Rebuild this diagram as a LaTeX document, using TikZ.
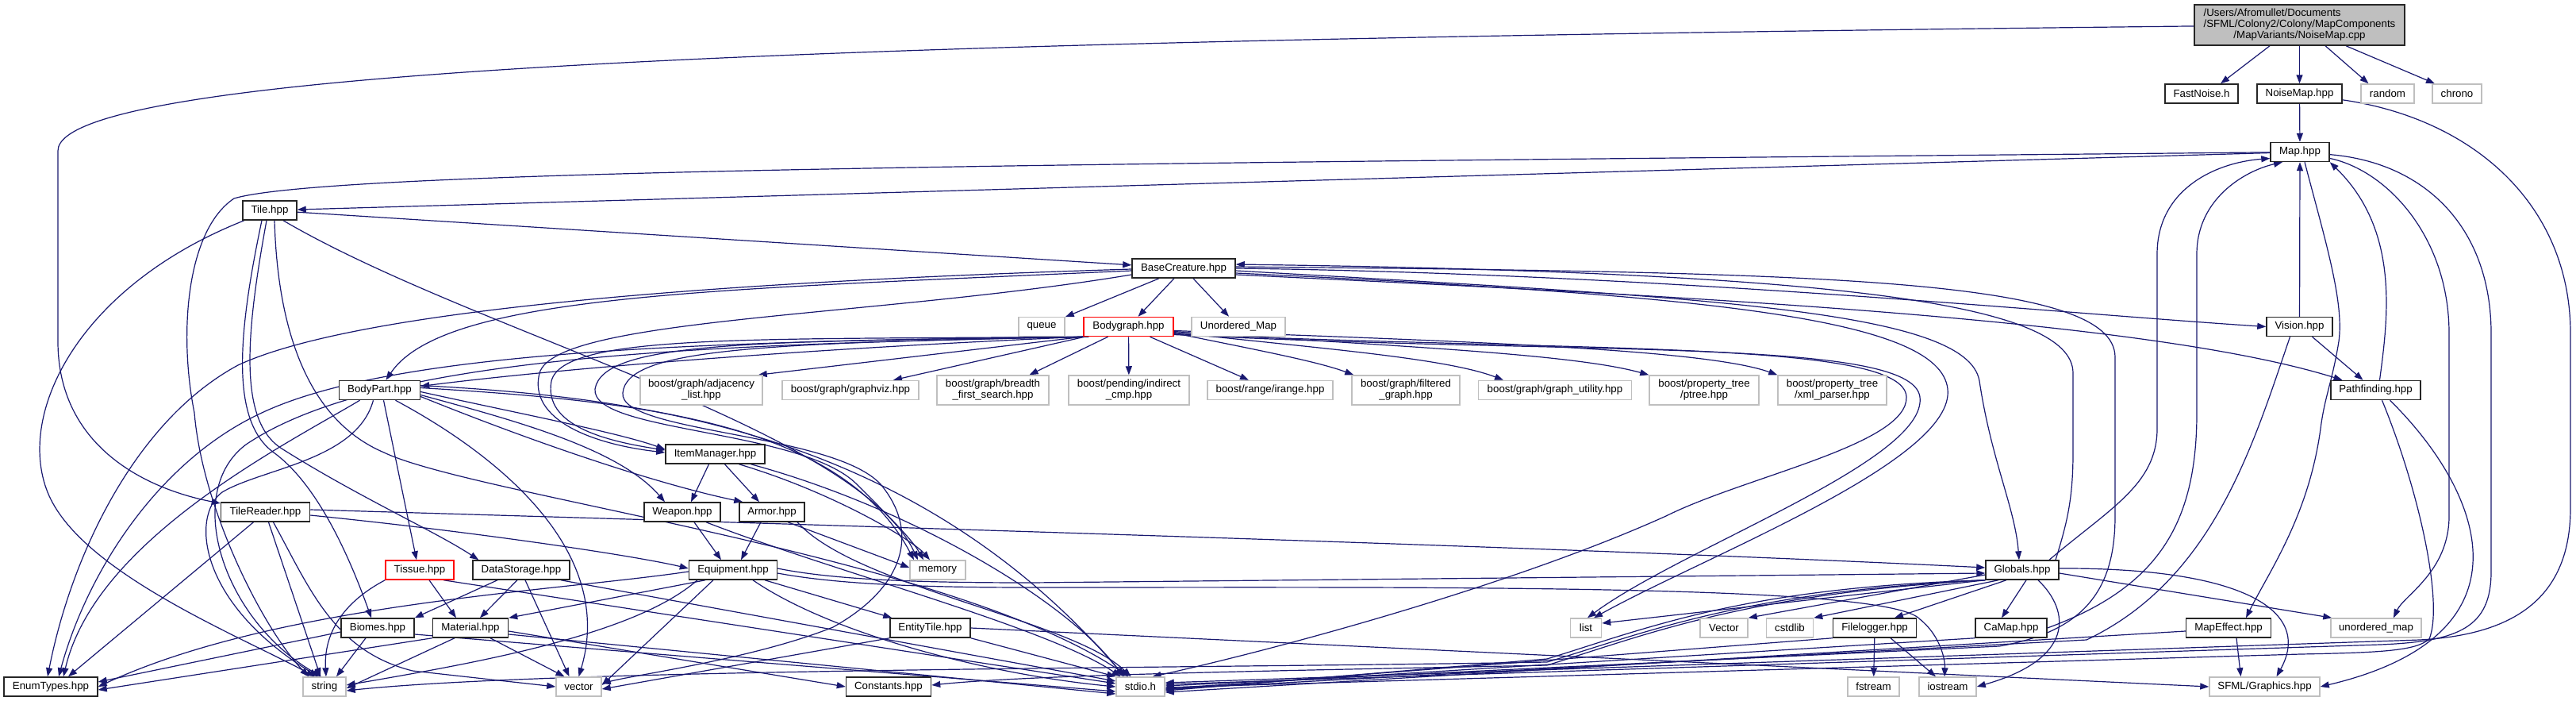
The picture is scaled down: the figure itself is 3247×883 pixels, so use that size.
\documentclass[tikz,border=0pt]{standalone}
\usepackage{fontspec}
\setmainfont{Liberation Sans}
\usetikzlibrary{arrows.meta,backgrounds}
\definecolor{edgec}{RGB}{25,25,112}
\newcommand{\dxf}{\fontsize{13.3pt}{14pt}\selectfont}
\tikzset{
 nd/.style={rectangle, line width=1.5pt, minimum height=24pt, inner sep=1pt, font=\dxf, align=center, fill=white, text=black},
 blk/.style={nd, draw=black!85},
 gry/.style={nd, draw=black!25},
 rdn/.style={nd, draw=red},
 rootn/.style={nd, draw=black!85, fill=black!25, minimum width=265pt, minimum height=51pt},
 edg/.style={draw=edgec, line width=1.2pt, -{Triangle[length=11pt,width=8pt]}},
}
\begin{document}
\begin{tikzpicture}[x=1pt,y=-1pt]
\path[use as bounding box] (0,0) rectangle (3247,883);
% ---------------- nodes ----------------
\node[rootn] (root) at (2898.5,31.5) {\begin{tabular}{@{}l@{}}/Users/Afromullet/Documents\\/SFML/Colony2/Colony/MapComponents\\\multicolumn{1}{@{}c@{}}{/MapVariants/NoiseMap.cpp}\end{tabular}};
\node[blk, minimum width=92pt] (fastnoise) at (2775,118) {FastNoise.h};
\node[blk, minimum width=107pt] (noisemaphpp) at (2898.5,118) {NoiseMap.hpp};
\node[gry, minimum width=67pt] (random) at (3009.5,118) {random};
\node[gry, minimum width=62pt] (chrono) at (3097,118) {chrono};
\node[blk, minimum width=74pt] (map) at (2899,191.5) {Map.hpp};
\node[blk, minimum width=68pt] (tile) at (340,265) {Tile.hpp};
\node[blk, minimum width=130pt] (basecreature) at (1492,338) {BaseCreature.hpp};
\node[gry, minimum width=58pt] (queue) at (1313,411.5) {queue};
\node[rdn, minimum width=113pt] (bodygraph) at (1422.5,411.5) {Bodygraph.hpp};
\node[gry, minimum width=118pt] (unorderedMapU) at (1561,411.5) {Unordered\_Map};
\node[blk, minimum width=83pt] (vision) at (2898.5,411.5) {Vision.hpp};
\node[blk, minimum width=102pt] (bodypart) at (478.5,491.5) {BodyPart.hpp};
\node[gry, minimum width=154pt, minimum height=37pt] (adjlist) at (884,491.5) {boost/graph/adjacency\\\_list.hpp};
\node[gry, minimum width=172pt] (graphviz) at (1072,491.5) {boost/graph/graphviz.hpp};
\node[gry, minimum width=141pt, minimum height=37pt] (bfs) at (1251.5,491.5) {boost/graph/breadth\\\_first\_search.hpp};
\node[gry, minimum width=152pt, minimum height=37pt] (indirect) at (1423,491.5) {boost/pending/indirect\\\_cmp.hpp};
\node[gry, minimum width=158pt] (irange) at (1601,491.5) {boost/range/irange.hpp};
\node[gry, minimum width=136pt, minimum height=37pt] (filtered) at (1772,491.5) {boost/graph/filtered\\\_graph.hpp};
\node[gry, minimum width=193pt] (graphutil) at (1960,491.5) {boost/graph/graph\_utility.hpp};
\node[gry, minimum width=138pt, minimum height=37pt] (ptree) at (2148,491.5) {boost/property\_tree\\/ptree.hpp};
\node[gry, minimum width=137pt, minimum height=37pt] (xmlparser) at (2309.5,491.5) {boost/property\_tree\\/xml\_parser.hpp};
\node[blk, minimum width=113pt] (pathfinding) at (2994.5,491.5) {Pathfinding.hpp};
\node[blk, minimum width=125pt] (itemmanager) at (901.5,572) {ItemManager.hpp};
\node[blk, minimum width=112pt] (tilereader) at (334.5,645) {TileReader.hpp};
\node[blk, minimum width=96pt] (weapon) at (860,645) {Weapon.hpp};
\node[blk, minimum width=82pt] (armor) at (973,645) {Armor.hpp};
\node[rdn, minimum width=86pt] (tissue) at (529,718) {Tissue.hpp};
\node[blk, minimum width=122pt] (datastorage) at (657,718) {DataStorage.hpp};
\node[gry, minimum width=70pt] (memory) at (1182,718) {memory};
\node[blk, minimum width=111pt] (equipment) at (924,718) {Equipment.hpp};
\node[blk, minimum width=92pt] (globals) at (2549,718) {Globals.hpp};
\node[blk, minimum width=92pt] (biomes) at (476,791) {Biomes.hpp};
\node[blk, minimum width=95pt] (material) at (593,791) {Material.hpp};
\node[blk, minimum width=101pt] (entitytile) at (1172.5,791) {EntityTile.hpp};
\node[gry, minimum width=39pt] (list) at (1999,791) {list};
\node[gry, minimum width=60pt] (vectorU) at (2173,791) {Vector};
\node[gry, minimum width=59pt] (cstdlib) at (2256,791) {cstdlib};
\node[blk, minimum width=105pt] (filelogger) at (2363,791) {Filelogger.hpp};
\node[blk, minimum width=90pt] (camap) at (2535,791) {CaMap.hpp};
\node[blk, minimum width=107pt] (mapeffect) at (2809,791) {MapEffect.hpp};
\node[gry, minimum width=114pt] (unorderedmap) at (2995,791) {unordered\_map};
\node[blk, minimum width=118pt] (enumtypes) at (64,865) {EnumTypes.hpp};
\node[gry, minimum width=54pt] (string) at (409,865) {string};
\node[gry, minimum width=57pt] (vector) at (729.5,865) {vector};
\node[blk, minimum width=107pt] (constants) at (1120,865) {Constants.hpp};
\node[gry, minimum width=61pt] (stdio) at (1437.5,865) {stdio.h};
\node[gry, minimum width=65pt] (fstream) at (2361.5,865) {fstream};
\node[gry, minimum width=72pt] (iostream) at (2455,865) {iostream};
\node[gry, minimum width=139pt] (sfml) at (2854.5,865) {SFML/Graphics.hpp};
% ---------------- edges ----------------
\begin{scope}[on background layer]
\fill[white] (0,0) rectangle (3247,883);
% root
\draw[edg] (root) .. controls (1200,50) and (73,80) .. (73,190) -- (73,430) .. controls (73,560) and (180,615) .. (tilereader);
\draw[edg] ([xshift=-37.5pt]root.south) -- ([xshift=24pt]fastnoise.north);
\draw[edg] (root) -- (noisemaphpp);
\draw[edg] ([xshift=32.5pt]root.south) -- ([xshift=-24pt]random.north);
\draw[edg] ([xshift=58.5pt]root.south) -- ([xshift=-28pt]chrono.north);
% NoiseMap.hpp
\draw[edg] (noisemaphpp) -- (map);
\draw[edg] (noisemaphpp) .. controls (3120,150) and (3240,260) .. (3240,420) -- (3240,640) .. controls (3240,760) and (3160,800) .. (3050,806) -- ([yshift=5pt]stdio.east);
% Map.hpp
\draw[edg] (map) -- (tile);
\draw[edg] (map) .. controls (1500,205) and (420,212) .. (295,250) .. controls (235,290) and (225,420) .. (245,520) .. controls (255,640) and (330,790) .. ([xshift=-20pt]string.north);
\draw[edg] (map) .. controls (3010,215) and (3087,300) .. (3087,420) -- (3087,650) .. controls (3087,720) and (3030,750) .. ([xshift=22pt]unorderedmap.north);
\draw[edg] (map) .. controls (3060,205) and (3140,290) .. (3140,420) -- (3140,720) .. controls (3140,790) and (3100,808) .. (3000,812) -- ([yshift=3pt]stdio.east);
\draw[edg] ([xshift=6pt]map.south) .. controls (2930,300) and (2955,380) .. (2948,430) .. controls (2940,480) and (2930,500) .. (2925,540) .. controls (2910,650) and (2860,720) .. ([xshift=22pt]mapeffect.north);
% Vision, Pathfinding
\draw[edg] (vision) -- (map);
\draw[edg] ([xshift=16pt]vision.south) -- ([xshift=-16pt]pathfinding.north);
\draw[edg] ([xshift=-12pt]vision.south) .. controls (2840,560) and (2790,730) .. (2630,806) -- ([yshift=-3pt]stdio.east);
\draw[edg] ([xshift=5pt]pathfinding.north) .. controls (3010,400) and (3025,290) .. (map.south east);
\draw[edg] ([xshift=18pt]pathfinding.south) .. controls (3130,620) and (3200,800) .. (sfml.east);
\draw[edg] ([xshift=8pt]pathfinding.south) .. controls (3050,620) and (3080,760) .. (3062,805) .. controls (3045,820) and (3000,822) .. (2900,824) -- ([yshift=-1pt]stdio.east);
% Globals / CaMap up to Map, Globals <-> BaseCreature
\draw[edg] ([xshift=34pt]globals.north) .. controls (2660,640) and (2719,610) .. (2719,540) -- (2719,320) .. controls (2719,240) and (2790,205) .. ([yshift=-8pt]map.west);
\draw[edg] (camap.east) .. controls (2720,740) and (2769,660) .. (2769,520) -- (2769,320) .. controls (2769,250) and (2830,215) .. ([xshift=-22pt]map.south);
\draw[edg] ([xshift=42pt]globals.north) .. controls (2605,660) and (2613,630) .. (2613,570) -- (2613,470) .. controls (2613,380) and (2300,343) .. ([yshift=5pt]basecreature.east);
\draw[edg] ([yshift=-3pt]basecreature.east) .. controls (2150,375) and (2480,390) .. (2495,480) .. controls (2510,580) and (2540,640) .. ([xshift=-4pt]globals.north);
\draw[edg] ([yshift=2pt]basecreature.east) .. controls (2300,343) and (2666,350) .. (2666,450) -- (2666,650) .. controls (2666,740) and (2630,795) .. (2520,814) -- ([yshift=1pt]stdio.east);
\draw[edg] (basecreature.east) .. controls (2100,345) and (2600,395) .. (vision.west);
\draw[edg] ([yshift=-8pt]basecreature.east) .. controls (2100,372) and (2700,400) .. ([xshift=-42pt]pathfinding.north);
\draw[edg] ([yshift=-6pt]basecreature.east) .. controls (2150,372) and (2445,400) .. (2455,490) .. controls (2465,580) and (2150,700) .. ([xshift=10pt]list.north);
% BaseCreature others
\draw[edg] (basecreature) -- (queue);
\draw[edg] (basecreature) -- (bodygraph);
\draw[edg] (basecreature) -- (unorderedMapU);
\draw[edg] ([yshift=-3pt]basecreature.west) .. controls (900,365) and (560,370) .. ([xshift=8pt]bodypart.north);
\draw[edg] ([yshift=-1pt]basecreature.west) .. controls (900,355) and (450,390) .. (300,460) .. controls (170,530) and (90,700) .. ([xshift=-4pt]enumtypes.north);
\draw[edg] ([yshift=-8pt]basecreature.west) .. controls (1100,400) and (700,400) .. (680,470) .. controls (665,530) and (750,560) .. ([yshift=2pt]itemmanager.west);
% Tile
\draw[edg] (tile) -- (basecreature);
\draw[edg] (tile) .. controls (100,360) and (20,520) .. (60,620) .. controls (100,720) and (300,800) .. ([xshift=-12pt]string.north);
\draw[edg] ([xshift=-10pt]tile.south) .. controls (300,420) and (290,530) .. (345,570) .. controls (400,610) and (440,700) .. ([xshift=-8pt]biomes.north);
\draw[edg] ([xshift=-4pt]tile.south) .. controls (310,420) and (300,530) .. (355,565) .. controls (450,625) and (550,670) .. ([xshift=8pt]datastorage.north west);
\draw[edg] ([xshift=6pt]tile.south) .. controls (350,420) and (390,530) .. (484,570) .. controls (600,625) and (1200,700) .. ([xshift=-15pt]stdio.north);
\draw[edg] ([xshift=17pt]tile.south) .. controls (600,420) and (1080,540) .. ([xshift=-25pt]memory.north);
% Bodygraph
\draw[edg] (bodygraph.south west) -- ([xshift=-6pt]adjlist.north east);
\draw[edg] ([xshift=2pt]bodygraph.south west) -- ([xshift=54pt]graphviz.north);
\draw[edg] ([xshift=-26pt]bodygraph.south) -- ([xshift=46pt]bfs.north);
\draw[edg] (bodygraph) -- (indirect);
\draw[edg] ([xshift=27pt]bodygraph.south) -- ([xshift=-27pt]irange.north);
\draw[edg] ([yshift=-8pt]bodygraph.east) .. controls (1580,440) and (1660,455) .. ([xshift=3pt]filtered.north west);
\draw[edg] ([yshift=-7pt]bodygraph.east) .. controls (1650,438) and (1820,450) .. ([xshift=-65pt]graphutil.north);
\draw[edg] ([yshift=-6pt]bodygraph.east) .. controls (1750,436) and (1980,445) .. (ptree.north west);
\draw[edg] ([yshift=-5pt]bodygraph.east) .. controls (1850,430) and (2150,440) .. (xmlparser.north west);
\draw[edg] ([yshift=-10pt]bodygraph.east) .. controls (2000,448) and (2410,425) .. (2420,500) .. controls (2430,580) and (2120,690) .. ([xshift=2pt]list.north);
\draw[edg] ([yshift=-9pt]bodygraph.east) .. controls (2000,444) and (2400,428) .. (2403,500) .. controls (2405,560) and (2200,600) .. (2100,650) .. controls (1900,740) and (1600,820) .. ([xshift=15pt]stdio.north);
\draw[edg] (bodygraph.south west) .. controls (1000,440) and (700,465) .. ([yshift=5pt]bodypart.east);
\draw[edg] ([xshift=3pt]bodygraph.south west) .. controls (950,428) and (710,420) .. (695,480) .. controls (685,535) and (760,555) .. ([yshift=5pt]itemmanager.west);
\draw[edg] ([xshift=5pt]bodygraph.south west) .. controls (950,430) and (760,430) .. (750,490) .. controls (745,545) and (1010,540) .. (1080,610) .. controls (1120,650) and (1150,680) .. ([xshift=-18pt]memory.north);
\draw[edg] ([xshift=7pt]bodygraph.south west) .. controls (950,432) and (790,440) .. (785,495) .. controls (780,545) and (1050,545) .. (1110,610) .. controls (1160,670) and (1140,740) .. (1050,790) .. controls (950,830) and (800,850) .. ([yshift=4pt]vector.east);
\draw[edg] ([xshift=1pt]bodygraph.south west) .. controls (900,430) and (500,440) .. (330,520) .. controls (200,580) and (110,720) .. ([xshift=10pt]enumtypes.north);
\draw[edg] ([xshift=4pt]bodygraph.south west) .. controls (900,434) and (480,445) .. (310,560) .. controls (230,620) and (280,780) .. ([xshift=-4pt]string.north);
% BodyPart
\draw[edg] ([xshift=-25pt]bodypart.south) .. controls (360,560) and (120,680) .. ([xshift=16pt]enumtypes.north);
\draw[edg] ([xshift=-8pt]bodypart.south) .. controls (450,580) and (330,590) .. (280,620) .. controls (240,650) and (250,760) .. ([xshift=-8pt]string.north);
\draw[edg] ([xshift=5pt]bodypart.south) -- ([xshift=-4pt]tissue.north);
\draw[edg] ([xshift=20pt]bodypart.south) .. controls (640,580) and (775,700) .. (vector.north);
\draw[edg] ([yshift=-2pt]bodypart.east) .. controls (650,520) and (780,545) .. ([yshift=6pt]itemmanager.west);
\draw[edg] ([yshift=-6pt]bodypart.east) .. controls (650,530) and (780,565) .. ([xshift=-22pt]weapon.north);
\draw[edg] ([yshift=-8pt]bodypart.east) .. controls (680,560) and (830,610) .. ([xshift=5pt]armor.north west);
\draw[edg] ([yshift=3pt]bodypart.east) .. controls (800,505) and (1060,530) .. ([xshift=-30pt]memory.north);
\draw[edg] ([yshift=6pt]bodypart.east) .. controls (800,500) and (1150,540) .. ([xshift=-20pt]stdio.north);
% ItemManager, Weapon, Armor
\draw[edg] ([xshift=-8pt]itemmanager.south) -- ([xshift=11pt]weapon.north);
\draw[edg] ([xshift=12pt]itemmanager.south) -- ([xshift=-16pt]armor.north);
\draw[edg] ([xshift=30pt]itemmanager.south) .. controls (1050,620) and (1150,680) .. ([xshift=-10pt]memory.north);
\draw[edg] ([xshift=45pt]itemmanager.south) .. controls (1150,640) and (1350,760) .. ([xshift=-22pt]stdio.north);
\draw[edg] ([xshift=15pt]weapon.south) -- ([xshift=-15pt]equipment.north);
\draw[edg] ([xshift=30pt]weapon.south) .. controls (1050,720) and (1320,790) .. ([xshift=-25pt]stdio.north);
\draw[edg] ([xshift=-14pt]armor.south) -- ([xshift=10pt]equipment.north);
\draw[edg] ([xshift=20pt]armor.south) -- ([yshift=3pt]memory.west);
\draw[edg] ([xshift=32pt]armor.south) .. controls (1080,740) and (1350,780) .. ([xshift=-12pt]stdio.north);
% Equipment
\draw[edg] ([xshift=-35pt]equipment.south) -- (material.north east);
\draw[edg] ([xshift=-45pt]equipment.south) .. controls (800,800) and (600,835) .. ([yshift=2pt]string.east);
\draw[edg] ([xshift=-25pt]equipment.south) -- ([yshift=2pt]vector.east);
\draw[edg] ([yshift=-2pt]equipment.west) .. controls (700,745) and (350,760) .. (enumtypes.east);
\draw[edg] ([xshift=40pt]equipment.south) -- ([xshift=3pt]entitytile.north west);
\draw[edg] ([xshift=25pt]equipment.south) .. controls (1050,800) and (1250,850) .. (stdio.west);
\draw[edg] ([yshift=2pt]equipment.east) .. controls (1050,730) and (1150,734) .. (1300,734) -- ([yshift=-4pt]globals.west);
\draw[edg] ([yshift=-4pt]equipment.east) .. controls (1050,735) and (1150,740) .. (1300,740) .. controls (1800,740) and (2380,735) .. (2420,780) .. controls (2445,800) and (2452,830) .. ([xshift=-4pt]iostream.north);
% Tissue
\draw[edg] (tissue.south west) .. controls (430,760) and (408,800) .. ([xshift=2pt]string.north);
\draw[edg] ([xshift=12pt]tissue.south) -- ([xshift=-18pt]material.north);
\draw[edg] ([xshift=30pt]tissue.south) -- ([yshift=4pt]stdio.west);
% DataStorage
\draw[edg] ([xshift=-30pt]datastorage.south) -- (biomes.north east);
\draw[edg] ([xshift=-5pt]datastorage.south) -- ([xshift=12pt]material.north);
\draw[edg] ([xshift=5pt]datastorage.south) -- ([xshift=-12pt]vector.north);
\draw[edg] ([xshift=50pt]datastorage.south) -- ([yshift=7pt]stdio.west);
% Biomes
\draw[edg] ([yshift=-5pt]biomes.west) -- ([yshift=6pt]enumtypes.east);
\draw[edg] ([xshift=-15pt]biomes.south) -- ([xshift=15pt]string.north);
\draw[edg] ([yshift=-8pt]biomes.east) -- ([yshift=-6pt]stdio.west);
% Material
\draw[edg] (material.south west) -- ([yshift=-4pt]enumtypes.east);
\draw[edg] ([xshift=-20pt]material.south) -- ([yshift=-2pt]string.east);
\draw[edg] ([xshift=25pt]material.south) -- ([xshift=-18pt]vector.north);
\draw[edg] ([yshift=-4pt]material.east) -- (constants.west);
\draw[edg] ([yshift=-8pt]material.east) -- ([yshift=-9pt]stdio.west);
% TileReader
\draw[edg] ([xshift=-15pt]tilereader.south) -- ([xshift=22pt]enumtypes.north);
\draw[edg] ([xshift=4pt]tilereader.south) -- ([xshift=-5pt]string.north);
\draw[edg] ([xshift=10pt]tilereader.south) .. controls (390,740) and (420,820) .. (520,845) -- (vector.west);
\draw[edg] ([yshift=3pt]tilereader.east) .. controls (1000,660) and (2000,690) .. ([yshift=3pt]globals.west);
\draw[edg] ([yshift=-4pt]tilereader.east) .. controls (600,670) and (800,700) .. ([yshift=2pt]equipment.west);
% EntityTile
\draw[edg] (entitytile.east) -- (sfml.west);
\draw[edg] (entitytile.south east) -- (stdio.north west);
\draw[edg] (entitytile.south west) -- ([yshift=-3pt]vector.east);
% Globals
\draw[edg] (globals.south west) -- ([yshift=6pt]list.east);
\draw[edg] ([yshift=-6pt]globals.west) -- (vectorU.north east);
\draw[edg] ([xshift=-30pt]globals.south) -- (cstdlib.north east);
\draw[edg] ([xshift=-20pt]globals.south) -- ([xshift=25pt]filelogger.north);
\draw[edg] ([xshift=5pt]globals.south) -- ([xshift=-12pt]camap.north);
\draw[edg] ([xshift=20pt]globals.south) .. controls (2610,770) and (2615,830) .. (iostream.east);
\draw[edg] ([yshift=-4pt]globals.east) -- ([xshift=2pt]unorderedmap.north west);
\draw[edg] ([yshift=2pt]globals.east) .. controls (2830,715) and (2915,770) .. ([xshift=15pt]sfml.north);
\draw[edg] (globals.south west) .. controls (2200,740) and (2080,790) .. (1950,830) -- ([yshift=-5pt]stdio.east);
\draw[edg] (globals.south west) .. controls (2200,745) and (2080,795) .. (1950,834) .. controls (1500,842) and (700,842) .. ([yshift=-5pt]string.east);
\draw[edg] (globals.south west) .. controls (2200,748) and (2080,798) .. (1950,838) .. controls (1600,845) and (1300,850) .. ([yshift=2pt]constants.east);
% MapEffect, CaMap, Filelogger
\draw[edg] ([xshift=10pt]mapeffect.south) -- ([xshift=-30pt]sfml.north);
\draw[edg] ([yshift=-4pt]mapeffect.west) -- ([yshift=-7pt]stdio.east);
\draw[edg] (camap.south west) -- ([yshift=-2pt]stdio.east);
\draw[edg] (filelogger) -- (fstream);
\draw[edg] ([xshift=20pt]filelogger.south) -- ([xshift=-15pt]iostream.north);
\draw[edg] (filelogger.south west) -- ([yshift=-4pt]stdio.east);
\end{scope}
\end{tikzpicture}
\end{document}
